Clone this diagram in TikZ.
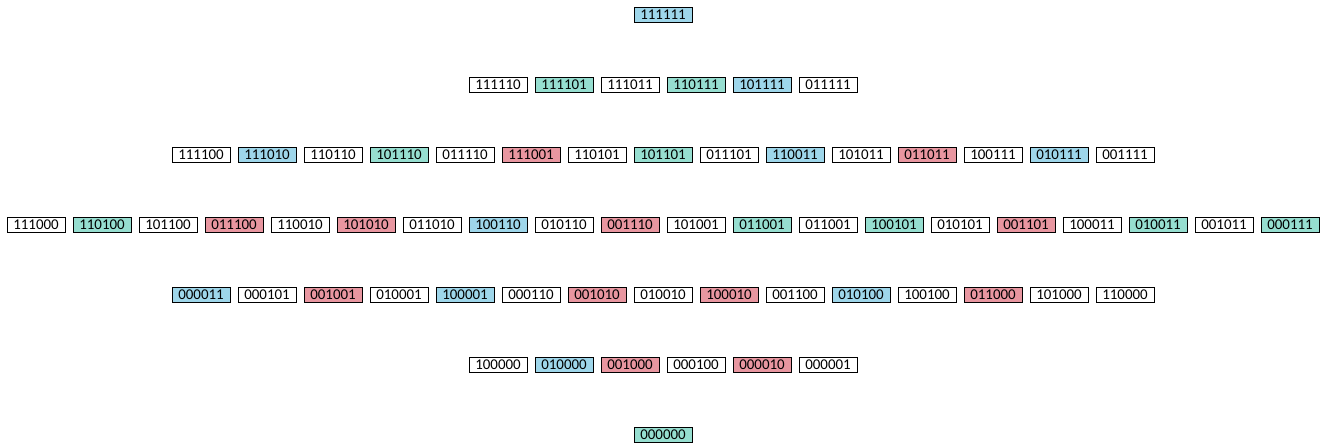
\documentclass[tikz,border=0pt]{standalone}
\usepackage{fontspec}
\setmainfont{Carlito}
\usepackage{tikz}
\definecolor{bitblue}{RGB}{158,214,234}
\definecolor{bitteal}{RGB}{150,222,208}
\definecolor{bitred}{RGB}{232,150,160}
\begin{document}
\begin{tikzpicture}[line width=0.5pt,
  bitbox/.style={draw=black,minimum width=1.16cm,minimum height=0.30cm,inner sep=0pt,font=\fontsize{8.5}{9}\selectfont},
  bluebit/.style={bitbox,fill=bitblue},
  tealbit/.style={bitbox,fill=bitteal},
  redbit/.style={bitbox,fill=bitred}]
\useasboundingbox (0.000,0.000) rectangle (26.520,8.880);
% weight 6
\node[bluebit] (r0-1) at (13.260,8.580) {111111};
% weight 5
\node[bitbox]  (r1-1) at (9.960,7.180) {111110};
\node[tealbit] (r1-2) at (11.280,7.180) {111101};
\node[bitbox]  (r1-3) at (12.600,7.180) {111011};
\node[tealbit] (r1-4) at (13.920,7.180) {110111};
\node[bluebit] (r1-5) at (15.240,7.180) {101111};
\node[bitbox]  (r1-6) at (16.560,7.180) {011111};
% weight 4
\node[bitbox]  (r2-1) at (4.020,5.780) {111100};
\node[bluebit] (r2-2) at (5.340,5.780) {111010};
\node[bitbox]  (r2-3) at (6.660,5.780) {110110};
\node[tealbit] (r2-4) at (7.980,5.780) {101110};
\node[bitbox]  (r2-5) at (9.300,5.780) {011110};
\node[redbit]  (r2-6) at (10.620,5.780) {111001};
\node[bitbox]  (r2-7) at (11.940,5.780) {110101};
\node[tealbit] (r2-8) at (13.260,5.780) {101101};
\node[bitbox]  (r2-9) at (14.580,5.780) {011101};
\node[bluebit] (r2-10) at (15.900,5.780) {110011};
\node[bitbox]  (r2-11) at (17.220,5.780) {101011};
\node[redbit]  (r2-12) at (18.540,5.780) {011011};
\node[bitbox]  (r2-13) at (19.860,5.780) {100111};
\node[bluebit] (r2-14) at (21.180,5.780) {010111};
\node[bitbox]  (r2-15) at (22.500,5.780) {001111};
% weight 3
\node[bitbox]  (r3-1) at (0.720,4.380) {111000};
\node[tealbit] (r3-2) at (2.040,4.380) {110100};
\node[bitbox]  (r3-3) at (3.360,4.380) {101100};
\node[redbit]  (r3-4) at (4.680,4.380) {011100};
\node[bitbox]  (r3-5) at (6.000,4.380) {110010};
\node[redbit]  (r3-6) at (7.320,4.380) {101010};
\node[bitbox]  (r3-7) at (8.640,4.380) {011010};
\node[bluebit] (r3-8) at (9.960,4.380) {100110};
\node[bitbox]  (r3-9) at (11.280,4.380) {010110};
\node[redbit]  (r3-10) at (12.600,4.380) {001110};
\node[bitbox]  (r3-11) at (13.920,4.380) {101001};
\node[tealbit] (r3-12) at (15.240,4.380) {011001};
\node[bitbox]  (r3-13) at (16.560,4.380) {011001};
\node[tealbit] (r3-14) at (17.880,4.380) {100101};
\node[bitbox]  (r3-15) at (19.200,4.380) {010101};
\node[redbit]  (r3-16) at (20.520,4.380) {001101};
\node[bitbox]  (r3-17) at (21.840,4.380) {100011};
\node[tealbit] (r3-18) at (23.160,4.380) {010011};
\node[bitbox]  (r3-19) at (24.480,4.380) {001011};
\node[tealbit] (r3-20) at (25.800,4.380) {000111};
% weight 2
\node[bluebit] (r4-1) at (4.020,2.980) {000011};
\node[bitbox]  (r4-2) at (5.340,2.980) {000101};
\node[redbit]  (r4-3) at (6.660,2.980) {001001};
\node[bitbox]  (r4-4) at (7.980,2.980) {010001};
\node[bluebit] (r4-5) at (9.300,2.980) {100001};
\node[bitbox]  (r4-6) at (10.620,2.980) {000110};
\node[redbit]  (r4-7) at (11.940,2.980) {001010};
\node[bitbox]  (r4-8) at (13.260,2.980) {010010};
\node[redbit]  (r4-9) at (14.580,2.980) {100010};
\node[bitbox]  (r4-10) at (15.900,2.980) {001100};
\node[bluebit] (r4-11) at (17.220,2.980) {010100};
\node[bitbox]  (r4-12) at (18.540,2.980) {100100};
\node[redbit]  (r4-13) at (19.860,2.980) {011000};
\node[bitbox]  (r4-14) at (21.180,2.980) {101000};
\node[bitbox]  (r4-15) at (22.500,2.980) {110000};
% weight 1
\node[bitbox]  (r5-1) at (9.960,1.580) {100000};
\node[bluebit] (r5-2) at (11.280,1.580) {010000};
\node[redbit]  (r5-3) at (12.600,1.580) {001000};
\node[bitbox]  (r5-4) at (13.920,1.580) {000100};
\node[redbit]  (r5-5) at (15.240,1.580) {000010};
\node[bitbox]  (r5-6) at (16.560,1.580) {000001};
% weight 0
\node[tealbit] (r6-1) at (13.260,0.180) {000000};
\end{tikzpicture}
\end{document}
